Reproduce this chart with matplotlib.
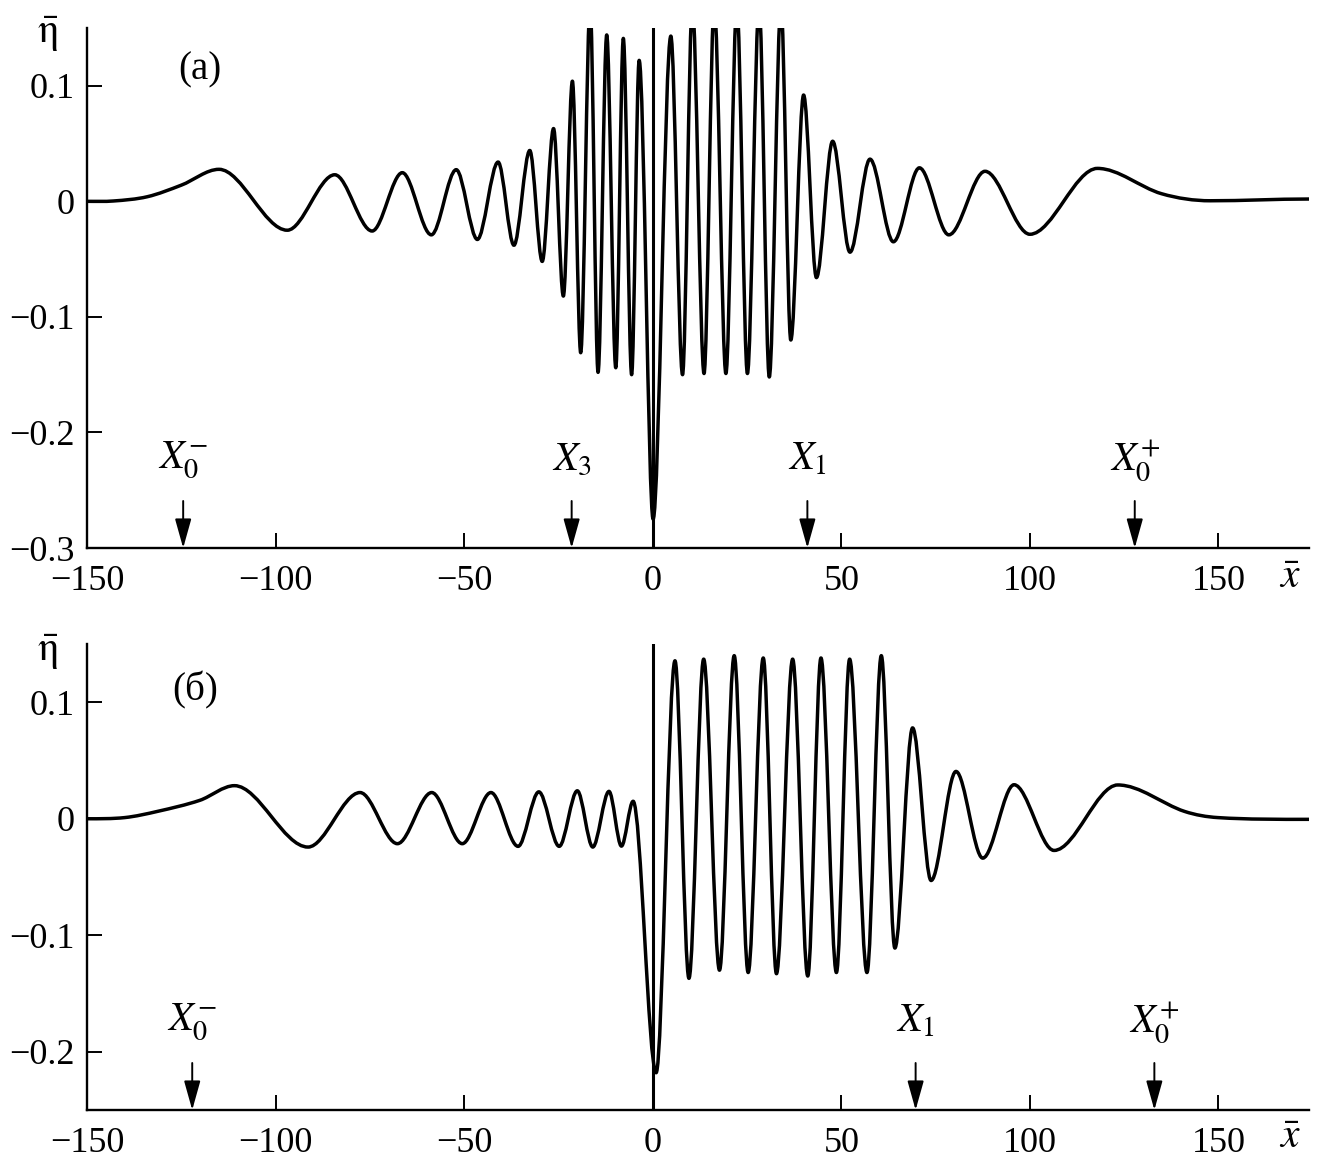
import numpy as np
import matplotlib
matplotlib.use("Agg")
import matplotlib.pyplot as plt
from matplotlib.path import Path
from matplotlib.patches import PathPatch

plt.rcParams['font.family'] = ['Liberation Serif', 'DejaVu Serif']
plt.rcParams['mathtext.fontset'] = 'stix'

# ---------------- data: panel (a) ----------------
xa = [-150, -143, -134, -125, -115.0, -96.9, -84.3, -74.4, -66.4, -58.7, -52.1, -46.5,
      -41.0, -36.8, -32.6, -29.3, -26.3, -23.7, -21.3, -19.1, -16.6, -14.5, -12.2, -9.8,
      -7.8, -5.6, -3.6, 0.1, 4.8, 7.9, 10.5, 13.6, 16.3, 19.4, 22.3, 25.1, 28.2, 30.9,
      34.0, 36.6, 40.0, 43.4, 47.7, 52.3, 57.6, 63.8, 70.7, 78.5, 88.1, 100.0, 117.9,
      134.9, 147.8, 174]
ya = [0.0, 0.0003, 0.004, 0.014, 0.0277, -0.025, 0.023, -0.0257, 0.0248, -0.029, 0.0274, -0.033,
      0.034, -0.038, 0.044, -0.052, 0.063, -0.082, 0.104, -0.131, 0.17, -0.148, 0.144, -0.144,
      0.141, -0.150, 0.122, -0.275, 0.143, -0.150, 0.17, -0.149, 0.17, -0.149, 0.17, -0.149, 0.17, -0.152,
      0.17, -0.120, 0.092, -0.066, 0.052, -0.044, 0.0365, -0.035, 0.029, -0.029, 0.026, -0.0285, 0.0285,
      0.0066, 0.0005, 0.002]
spike_a_x = 0.0
spike_a_y = (-0.30, 0.16)
marks_a_x = [-124.5, -21.5, 41.0, 127.8]
marks_a_lab = [r'$X_0^{-}$', r'$X_3$', r'$X_1$', r'$X_0^{+}$']

# ---------------- data: panel (б) ----------------
xb = [-150, -140, -131.2, -120.1, -110.9, -91.4, -77.6, -67.7, -58.6, -50.5, -42.9, -35.7,
      -30.2, -24.8, -20.0, -15.9, -11.6, -8.3, -5.2, 0.9, 5.9, 9.6, 13.5, 17.7, 21.6, 25.3,
      29.3, 32.8, 37.1, 41.1, 44.6, 48.7, 52.2, 56.8, 60.6, 64.2, 68.9, 73.8, 80.4, 87.5,
      95.8, 106.4, 123.3, 141.0, 149.8, 174]
yb = [0.0, 0.001, 0.0064, 0.0158, 0.0284, -0.0243, 0.0225, -0.0214, 0.0225, -0.0214, 0.0225, -0.0237,
      0.0231, -0.0237, 0.024, -0.0243, 0.0235, -0.0235, 0.015, -0.218, 0.1356, -0.137, 0.137, -0.130,
      0.140, -0.132, 0.138, -0.133, 0.137, -0.135, 0.138, -0.132, 0.137, -0.132, 0.140, -0.111, 0.078,
      -0.053, 0.0406, -0.0338, 0.0292, -0.0272, 0.029, 0.0063, 0.001, -0.0005]
spike_b_x = 0.0
spike_b_y = (-0.25, 0.16)
marks_b_x = [-122.1, 69.7, 133.0]
marks_b_lab = [r'$X_0^{-}$', r'$X_1$', r'$X_0^{+}$']

xticks = [-150, -100, -50, 0, 50, 100, 150]
yticks_a = [-0.3, -0.2, -0.1, 0, 0.1]
yticks_b = [-0.2, -0.1, 0, 0.1]


def fmt(v):
    if v == 0:
        return '0'
    s = ('%g' % v)
    return s.replace('-', '\u2212')


def smooth_curve(ax, xs, ys, lw=2.5):
    n = len(xs)
    sl = []
    for i in range(n):
        if i == 0 or i == n - 1:
            sl.append(0.0)
        elif (ys[i] - ys[i - 1]) * (ys[i + 1] - ys[i]) <= 0:
            sl.append(0.0)
        else:
            sl.append((ys[i + 1] - ys[i - 1]) / (xs[i + 1] - xs[i - 1]))
    verts = [(xs[0], ys[0])]
    codes = [Path.MOVETO]
    for i in range(n - 1):
        dx = xs[i + 1] - xs[i]
        verts += [(xs[i] + dx / 3, ys[i] + sl[i] * dx / 3),
                  (xs[i + 1] - dx / 3, ys[i + 1] - sl[i + 1] * dx / 3),
                  (xs[i + 1], ys[i + 1])]
        codes += [Path.CURVE4] * 3
    ax.add_patch(PathPatch(Path(verts, codes), fill=False, lw=lw, ec='black',
                           joinstyle='round', capstyle='round'))


def style_axes(ax, ylim, yticks):
    ax.set_xlim(-150, 174)
    ax.set_ylim(*ylim)
    for s in ['top', 'right']:
        ax.spines[s].set_visible(False)
    for s in ['left', 'bottom']:
        ax.spines[s].set_linewidth(1.7)
    ax.set_xticks(xticks)
    ax.set_xticklabels([fmt(v) for v in xticks])
    ax.set_yticks(yticks)
    ax.set_yticklabels([fmt(v) for v in yticks])
    ax.tick_params(direction='in', length=11, width=1.4, labelsize=26)
    ax.tick_params(axis='x', pad=12)
    ax.tick_params(axis='y', pad=9)


def add_marks(ax, xs, labels, ybot):
    for x, lab in zip(xs, labels):
        ax.annotate('', xy=(x, ybot), xycoords='data', xytext=(0, 47),
                    textcoords='offset pixels',
                    arrowprops=dict(arrowstyle='-|>,head_length=1.0,head_width=0.28',
                                    color='black', lw=1.4, shrinkA=0, shrinkB=0,
                                    mutation_scale=18), annotation_clip=False)
        ax.annotate(lab, xy=(x, ybot), xycoords='data', xytext=(0, 88),
                    textcoords='offset pixels', ha='center', va='center', fontsize=29)


W, H = 1319, 1167
fig = plt.figure(figsize=(W / 100, H / 100), dpi=100)

axa = fig.add_axes([87 / W, 1 - 548 / H, 1222 / W, (548 - 28) / H])
axb = fig.add_axes([87 / W, 1 - 1110 / H, 1222 / W, (1110 - 644) / H])

style_axes(axa, (-0.3, 0.15), yticks_a)
style_axes(axb, (-0.25, 0.15), yticks_b)

smooth_curve(axa, xa, ya)
smooth_curve(axb, xb, yb)
axa.vlines(spike_a_x, spike_a_y[0], spike_a_y[1], color='black', lw=2.2)
axb.vlines(spike_b_x, spike_b_y[0], spike_b_y[1], color='black', lw=2.2)

add_marks(axa, marks_a_x, marks_a_lab, -0.3)
add_marks(axb, marks_b_x, marks_b_lab, -0.25)

# axis labels and panel labels
for ytop, yx in [(34, 578), (652, 1138)]:
    fig.text(48 / W, 1 - ytop / H, r'$\bar{\mathrm{\eta}}$', ha='center', va='center', fontsize=30)
    fig.text(1290 / W, 1 - yx / H, r'$\bar{x}$', ha='center', va='center', fontsize=30)
fig.text(200 / W, 1 - 70 / H, '(а)', ha='center', va='center', fontsize=28)
fig.text(195 / W, 1 - 690 / H, '(б)', ha='center', va='center', fontsize=28)

fig.savefig('out.png', dpi=100)
